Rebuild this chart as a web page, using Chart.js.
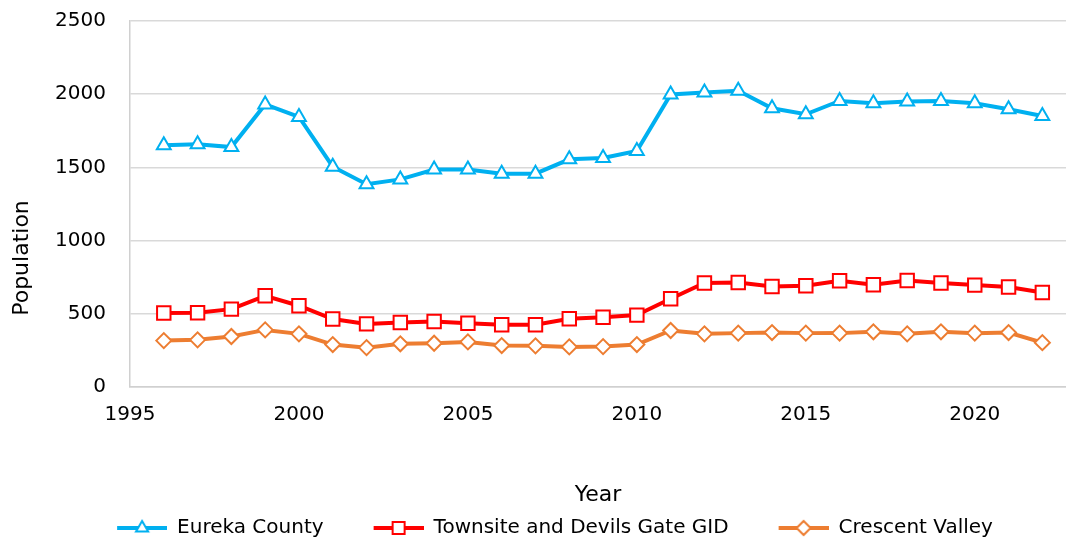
<!DOCTYPE html>
<html>
<head>
<meta charset="utf-8">
<script src="https://cdn.jsdelivr.net/npm/chart.js"></script>
<style>
  html, body { margin: 0; padding: 0; background: #fff; }
</style>
</head>
<body>
<canvas id="myChart" width="1066" height="543"></canvas>
<script>
// data
var years = [1996, 1997, 1998, 1999, 2000, 2001, 2002, 2003, 2004, 2005, 2006, 2007, 2008,
             2009, 2010, 2011, 2012, 2013, 2014, 2015, 2016, 2017, 2018, 2019, 2020, 2021, 2022];
var eureka = [1651, 1658, 1639, 1930, 1845, 1505, 1385, 1418, 1485, 1486, 1457, 1457, 1555,
              1564, 1612, 1998, 2012, 2023, 1904, 1863, 1954, 1938, 1950, 1954, 1938, 1897, 1851];
var townsite = [505, 507, 532, 623, 555, 464, 431, 440, 447, 436, 425, 425, 466,
                477, 491, 603, 710, 714, 687, 692, 726, 699, 728, 710, 696, 683, 646];
var crescent = [317, 322, 345, 390, 363, 290, 269, 295, 299, 308, 283, 281, 274,
                276, 290, 386, 363, 368, 372, 368, 368, 377, 363, 377, 368, 372, 303];
var seriesNames = ["Eureka County", "Townsite and Devils Gate GID", "Crescent Valley"];
var yTicks = [0, 500, 1000, 1500, 2000, 2500];
var xTickStep = 5;
var yTitle = "Population";

var colors = ["#00b0f0", "#ff0000", "#ed7d31"];
var styles = ["triangle", "rect", "rectRot"];
var radii = [8, 9.5, 7.5];
var FONT = "'DejaVu Sans', Verdana, sans-serif";

function toPoints(vals) {
  return vals.map(function (v, i) { return { x: years[i], y: v }; });
}

// legend icon: short line with the marker in the middle (Excel style)
function legendIcon(color, style) {
  var pad = 44, w = 50;
  var c = document.createElement("canvas");
  c.width = pad + w; c.height = 20;
  var g = c.getContext("2d");
  g.strokeStyle = color;
  g.lineWidth = 4;
  g.beginPath(); g.moveTo(pad, 10); g.lineTo(pad + w, 10); g.stroke();
  var cx = pad + w / 2, cy = 10, r;
  g.fillStyle = "#fff";
  g.lineWidth = 2;
  g.beginPath();
  if (style == "triangle") {
    r = 7;
    g.moveTo(cx, cy - r);
    g.lineTo(cx + r * 0.866, cy + r * 0.5);
    g.lineTo(cx - r * 0.866, cy + r * 0.5);
    g.closePath();
  } else if (style == "rect") {
    r = 6;
    g.rect(cx - r, cy - r, 2 * r, 2 * r);
  } else {
    r = 7;
    g.moveTo(cx, cy - r); g.lineTo(cx + r, cy); g.lineTo(cx, cy + r); g.lineTo(cx - r, cy);
    g.closePath();
  }
  g.fill(); g.stroke();
  return c;
}

var allSeries = [eureka, townsite, crescent];
var datasets = allSeries.map(function (vals, i) {
  return {
    label: seriesNames[i],
    data: toPoints(vals),
    borderColor: colors[i],
    backgroundColor: colors[i],
    borderWidth: 4,
    tension: 0,
    pointStyle: styles[i],
    pointRadius: radii[i],
    pointHoverRadius: radii[i],
    pointBackgroundColor: "#fff",
    pointBorderColor: colors[i],
    pointBorderWidth: 2
  };
});

var icons = colors.map(function (c, i) { return legendIcon(c, styles[i]); });

// y title sits lower than the plot centre in the reference, so draw it here
var yTitlePlugin = {
  id: "yTitle",
  afterDraw: function (chart) {
    var ctx = chart.ctx;
    ctx.save();
    ctx.translate(22, 258);
    ctx.rotate(-Math.PI / 2);
    ctx.font = "22px " + FONT;
    ctx.fillStyle = "#000";
    ctx.textAlign = "center";
    ctx.textBaseline = "middle";
    ctx.fillText(yTitle, 0, 0);
    ctx.restore();
  }
};

new Chart("myChart", {
  type: "line",
  data: { datasets: datasets },
  plugins: [yTitlePlugin],
  options: {
    responsive: false,
    animation: false,
    layout: { autoPadding: false, padding: { top: 21, right: 0, bottom: -5, left: 0 } },
    plugins: {
      tooltip: { enabled: false },
      legend: {
        position: "bottom",
        labels: {
          usePointStyle: true,
          pointStyleWidth: 94,
          padding: 6,
          color: "#000",
          font: { family: FONT, size: 20 },
          generateLabels: function (chart) {
            return chart.data.datasets.map(function (ds, i) {
              return {
                text: ds.label,
                pointStyle: icons[i],
                fillStyle: "#fff",
                strokeStyle: ds.borderColor,
                lineWidth: 0,
                hidden: false,
                datasetIndex: i,
                fontColor: "#000"
              };
            });
          }
        }
      }
    },
    scales: {
      x: {
        type: "linear",
        min: 1995,
        max: 2022.7,
        afterFit: function (s) {
          s.height = 125;
          s.paddingLeft = 0; s.paddingRight = 0;
        },
        afterBuildTicks: function (s) {
          s.ticks = s.ticks.filter(function (t) { return t.value % xTickStep === 0; });
        },
        ticks: {
          stepSize: xTickStep,
          includeBounds: false,
          padding: 16,
          color: "#000",
          font: { family: FONT, size: 20 },
          maxRotation: 0,
          callback: function (v) { return String(v); }
        },
        grid: { display: false, drawTicks: false },
        border: { display: true, color: "#d0d0d0", width: 1.5 },
        title: {
          display: true,
          text: "Year",
          color: "#000",
          font: { family: FONT, size: 22 },
          padding: { top: 0, bottom: 4 }
        }
      },
      y: {
        min: yTicks[0],
        max: yTicks[yTicks.length - 1],
        afterFit: function (s) {
          s.width = 130;
          s.paddingTop = 0; s.paddingBottom = 0;
        },
        afterBuildTicks: function (s) {
          s.ticks = yTicks.map(function (v) { return { value: v }; });
        },
        ticks: {
          padding: 24,
          color: "#000",
          font: { family: FONT, size: 20 },
          callback: function (v) { return String(v); }
        },
        grid: { color: "#d9d9d9", lineWidth: 1.5, drawTicks: false },
        border: { display: true, color: "#d0d0d0", width: 1.5 },
        title: { display: false }
      }
    }
  }
});
</script>
</body>
</html>
